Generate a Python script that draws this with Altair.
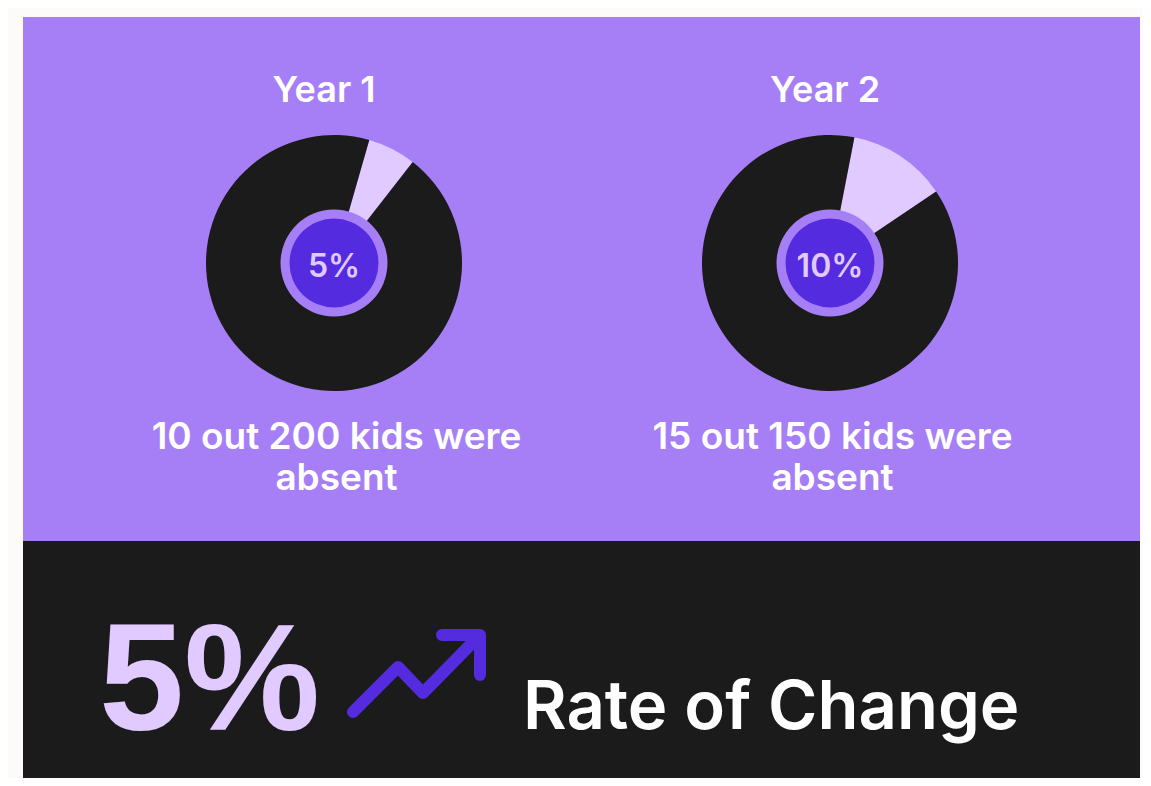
import math
import altair as alt
import pandas as pd

# ---- data ----
years = ["Year 1", "Year 2"]
pct_labels = ["5%", "10%"]
captions = ["10 out 200 kids were\nabsent", "15 out 150 kids were\nabsent"]
absent_share = [6.1, 12.5]          # share of the circle drawn as "absent" (%)
slice_start_deg = [16, 11]          # where the absent slice starts (rotation, style)
change_value = "5%"
change_label = "Rate of Change"

# ---- style ----
BG = "#fcfbf9"
PURPLE = "#a67ff6"
DARK = "#1b1b1b"
LAV = "#e0caff"
DEEP = "#552bdf"
FONT = "Inter"

W, H = 1135, 770
pie_cx = [326, 822]
pie_cy = 255
title_cx = [316, 817]
caption_cx = [328.5, 824.5]

dummy = pd.DataFrame({"a": [0]})

layers = []

# panels
layers.append(
    alt.Chart(dummy).mark_rect(color=PURPLE).encode(
        x=alt.value(15), x2=alt.value(1132), y=alt.value(9), y2=alt.value(533)
    )
)
layers.append(
    alt.Chart(dummy).mark_rect(color=DARK).encode(
        x=alt.value(15), x2=alt.value(1132), y=alt.value(533), y2=alt.value(770)
    )
)

for i in range(2):
    df = pd.DataFrame({
        "part": ["absent", "present"],
        "share": [absent_share[i], 100 - absent_share[i]],
        "ord": [0, 1],
    })
    s = math.radians(slice_start_deg[i])
    layers.append(
        alt.Chart(df).mark_arc(radius=128).encode(
            theta=alt.Theta("share:Q", stack=True,
                            scale=alt.Scale(range=[s, s + 2 * math.pi])),
            color=alt.Color("part:N", legend=None,
                            scale=alt.Scale(domain=["absent", "present"], range=[LAV, DARK])),
            order=alt.Order("ord:Q"),
            x=alt.value(pie_cx[i]), y=alt.value(pie_cy),
        )
    )
    layers.append(
        alt.Chart(dummy).mark_circle(size=107 ** 2, color=PURPLE, opacity=1).encode(
            x=alt.value(pie_cx[i]), y=alt.value(pie_cy)
        )
    )
    layers.append(
        alt.Chart(dummy).mark_circle(size=89 ** 2, color=DEEP, opacity=1).encode(
            x=alt.value(pie_cx[i]), y=alt.value(pie_cy)
        )
    )
    tdf = pd.DataFrame({"year": [years[i]], "pct": [pct_labels[i]], "cap": [captions[i]]})
    layers.append(
        alt.Chart(tdf).mark_text(font=FONT, fontSize=36, fontWeight=600, color="white",
                                 align="center", baseline="alphabetic").encode(
            text="year:N", x=alt.value(title_cx[i]), y=alt.value(94)
        )
    )
    layers.append(
        alt.Chart(tdf).mark_text(font=FONT, fontSize=32, fontWeight=600, color=LAV,
                                 align="center", baseline="alphabetic").encode(
            text="pct:N", x=alt.value(pie_cx[i]), y=alt.value(269)
        )
    )
    layers.append(
        alt.Chart(tdf).mark_text(font=FONT, fontSize=37, fontWeight=600, color="white",
                                 align="center", baseline="alphabetic", lineBreak="\n",
                                 lineHeight=41).encode(
            text="cap:N", x=alt.value(caption_cx[i]), y=alt.value(441)
        )
    )

bdf = pd.DataFrame({"v": [change_value], "l": [change_label]})
layers.append(
    alt.Chart(bdf).mark_text(font="Liberation Sans", fontSize=153, fontWeight="bold", color=LAV,
                             align="left", baseline="alphabetic").encode(
        text="v:N", x=alt.value(91), y=alt.value(722)
    )
)
layers.append(
    alt.Chart(bdf).mark_text(font=FONT, fontSize=67, fontWeight=600, color="white",
                             align="left", baseline="alphabetic").encode(
        text="l:N", x=alt.value(515), y=alt.value(721)
    )
)

arrow_path = ("M-0.907,0.55 L-0.264,-0.093 L0.093,0.279 L0.907,-0.55 "
              "M0.364,-0.55 L0.907,-0.55 L0.907,0.021")
layers.append(
    alt.Chart(dummy).mark_point(shape=arrow_path, size=140 ** 2, filled=False, stroke=DEEP,
                                strokeWidth=12, strokeCap="round", strokeJoin="round",
                                opacity=1).encode(
        x=alt.value(408.5), y=alt.value(665.5)
    )
)

chart = alt.layer(*layers).resolve_scale(theta="independent").properties(
    width=W, height=H, autosize=alt.AutoSizeParams(type="none"), padding=0,
    background=BG,
).configure_view(strokeWidth=0)

chart.save("out.html", embed_options={"renderer": "svg", "actions": False})
